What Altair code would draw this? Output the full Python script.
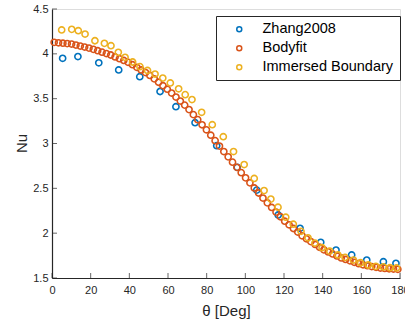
import altair as alt
import pandas as pd

# Zhang2008 (blue)
zhang_theta = [5.5, 13.4, 24.2, 34.5, 45.4, 55.9, 64.1, 74.0, 85.2, 95.8, 105.9,
               117.0, 128.3, 139.0, 146.9, 155.0, 162.8, 171.4, 177.9]
zhang_nu = [3.95, 3.97, 3.90, 3.82, 3.745, 3.58, 3.41, 3.232, 2.975, 2.734, 2.48,
            2.203, 2.054, 1.898, 1.812, 1.757, 1.70, 1.682, 1.664]

# Bodyfit (orange)
body_theta = [1.125 + 2.25 * i for i in range(80)]
body_nu = [4.128, 4.123, 4.119, 4.114, 4.109, 4.098, 4.087, 4.076, 4.064, 4.050,
           4.035, 4.019, 4.003, 3.987, 3.966, 3.946, 3.926, 3.906, 3.879, 3.850,
           3.820, 3.791, 3.759, 3.721, 3.683, 3.645, 3.606, 3.563, 3.518, 3.473,
           3.428, 3.378, 3.322, 3.266, 3.209, 3.153, 3.093, 3.032, 2.971, 2.910,
           2.851, 2.792, 2.734, 2.675, 2.617, 2.561, 2.504, 2.448, 2.392, 2.338,
           2.287, 2.235, 2.183, 2.133, 2.093, 2.052, 2.012, 1.971, 1.937, 1.906,
           1.874, 1.843, 1.814, 1.791, 1.769, 1.746, 1.724, 1.707, 1.691, 1.675,
           1.660, 1.647, 1.637, 1.628, 1.619, 1.611, 1.607, 1.603, 1.600, 1.597]

# Immersed Boundary (yellow)
ib_theta = [5.0, 10.2, 13.6, 17.1, 22.2, 27.1, 30.5, 34.3, 37.8, 41.7, 45.5,
            49.4, 53.3, 57.3, 61.2, 65.5, 68.9, 72.4, 77.4, 82.9, 88.6, 93.9,
            99.4, 104.6, 109.7, 113.2, 116.9, 120.9, 124.8, 128.8, 132.4, 136.0,
            139.7, 143.6, 147.9, 151.6, 155.9, 159.6, 163.6, 167.5, 171.4, 174.8, 178.2]
ib_nu = [4.266, 4.273, 4.258, 4.221, 4.146, 4.117, 4.091, 4.017, 3.961, 3.909, 3.857,
         3.815, 3.775, 3.730, 3.675, 3.610, 3.545, 3.490, 3.348, 3.210, 3.076, 2.910,
         2.765, 2.610, 2.475, 2.380, 2.290, 2.178, 2.100, 2.020, 1.948, 1.890,
         1.838, 1.800, 1.757, 1.730, 1.700, 1.670, 1.645, 1.630, 1.624, 1.615, 1.612]

series = ["Zhang2008", "Bodyfit", "Immersed Boundary"]
colors = ["#0072BD", "#D95319", "#EDB120"]

x_ticks = [0, 20, 40, 60, 80, 100, 120, 140, 160, 180]
y_ticks = [1.5, 2, 2.5, 3, 3.5, 4, 4.5]

rows = []
for t, v in zip(zhang_theta, zhang_nu):
    rows.append({"theta": t, "Nu": v, "series": series[0], "o": 0})
for t, v in zip(body_theta, body_nu):
    rows.append({"theta": t, "Nu": v, "series": series[1], "o": 1})
for t, v in zip(ib_theta, ib_nu):
    rows.append({"theta": t, "Nu": v, "series": series[2], "o": 2})
df = pd.DataFrame(rows)

W, H = 348, 269
FONT = "Liberation Sans"
AX = "#262626"

xscale = alt.Scale(domain=[0, 180], nice=False)
yscale = alt.Scale(domain=[1.5, 4.5], nice=False, zero=False)

xaxis = alt.Axis(values=x_ticks, title="θ [Deg]", grid=False, tickSize=0,
                 labelPadding=6, labelFontSize=11, labelColor=AX, labelFont=FONT,
                 labelFlush=False, labelOverlap=False,
                 domainColor=AX, domainWidth=1.2,
                 titleFont=FONT, titleFontSize=15, titleFontWeight="normal", titleColor=AX,
                 titleX=174, titleY=32, titleBaseline="middle", titleAlign="center")
yaxis = alt.Axis(values=y_ticks, format="~g", title="Nu", grid=False, tickSize=0,
                 labelPadding=4, labelFontSize=11, labelColor=AX, labelFont=FONT,
                 labelFlush=False, labelOverlap=False,
                 domainColor=AX, domainWidth=1.2,
                 titleFont=FONT, titleFontSize=15, titleFontWeight="normal", titleColor=AX,
                 titleX=-31, titleY=134, titleAngle=-90, titleAlign="center",
                 titleBaseline="middle")

points = alt.Chart(df).mark_point(shape="circle", filled=False, size=38, strokeWidth=1.6, opacity=1).encode(
    x=alt.X("theta:Q", scale=xscale, axis=xaxis),
    y=alt.Y("Nu:Q", scale=yscale, axis=yaxis),
    color=alt.Color("series:N", scale=alt.Scale(domain=series, range=colors),
                    legend=alt.Legend(title=None, orient="none", legendX=164, legendY=7,
                                      strokeColor=AX, fillColor="white", padding=6,
                                      symbolOffset=10, labelOffset=16, rowPadding=4,
                                      symbolType="circle", symbolSize=25, symbolStrokeWidth=1.5,
                                      symbolFillColor="transparent",
                                      labelFont=FONT, labelFontSize=14.5, labelColor="#000000",
                                      labelLimit=300)),
    order=alt.Order("o:Q"),
)

yt = alt.Chart(pd.DataFrame({"Nu": y_ticks})).mark_tick(orient="horizontal", size=5, thickness=1, color=AX).encode(
    y=alt.Y("Nu:Q", scale=yscale, axis=yaxis), x=alt.value(2.5))
xt = alt.Chart(pd.DataFrame({"theta": x_ticks})).mark_tick(orient="vertical", size=5, thickness=1, color=AX).encode(
    x=alt.X("theta:Q", scale=xscale, axis=xaxis), y=alt.value(H - 2.5))

chart = alt.layer(points, yt, xt).properties(
    width=W, height=H,
    padding={"left": 52, "top": 9, "right": 5, "bottom": 45},
    autosize=alt.AutoSizeParams(type="none"),
).configure_view(stroke=None).configure(background="white")

chart.save("out.html", embed_options={"renderer": "svg", "actions": False})
